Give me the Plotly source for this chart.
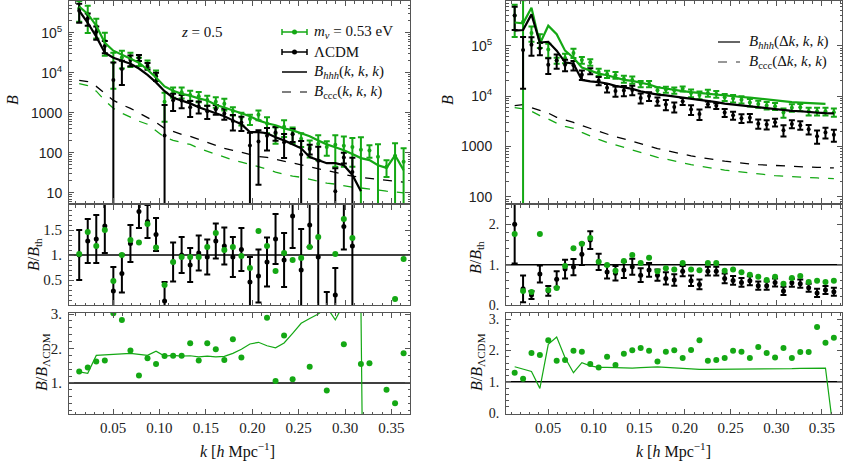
import plotly.graph_objects as go

W, H = 843, 474
GREEN = "#14a814"
BLACK = "#000000"
FRAME = "#555555"
SERIF = "Liberation Serif"
SANS = "Liberation Sans"

k = [0.0135, 0.0227, 0.0319, 0.0411, 0.0503, 0.0595, 0.0687, 0.0779, 0.0871, 0.0963,
     0.1055, 0.1147, 0.1239, 0.1331, 0.1423, 0.1515, 0.1607, 0.1699, 0.1791, 0.1883,
     0.1975, 0.2067, 0.2159, 0.2251, 0.2343, 0.2435, 0.2527, 0.2619, 0.2711, 0.2803,
     0.2895, 0.2987, 0.3079, 0.3171, 0.3263, 0.3355, 0.3447, 0.3539, 0.3631]

# ---- left column: B(k,k,k) ----
L_bhhh_lcdm = [3.6e5, 1.8e5, 8.1e4, 3.2e4, 2.4e4, 2.0e4, 1.7e4, 1.29e4, 8.9e3, 5.8e3,
               3.5e3, 2.4e3, 2.05e3, 1.73e3, 1.38e3, 1.15e3, 970, 820, 650, 520,
               330, 330, 310, 245, 205, 163, 130, 78, 66, 55,
               55, 49, 28, 11, None, None, None, None, None]
L_bhhh_mnu = [4.6e5, 3.0e5, 1.52e5, 5.7e4, 3.6e4, 2.9e4, 2.3e4, 1.8e4, 1.2e4, 7.7e3,
              4.6e3, 3.6e3, 3.0e3, 2.7e3, 2.3e3, 2.05e3, 1.6e3, 1.37e3, 1.15e3, 980,
              820, 650, 550, 490, 410, 365, 310, 260, 205, 163,
              138, 116, 93, 74, 66, 49, 42, 87, 37]
L_bccc_lcdm = [6.5e3, 6.1e3, 4.6e3, 3.1e3, 2.05e3, 1.6e3, 1.3e3, 1.0e3, 770, 580,
               410, 345, 290, 258, 218, 183, 155, 130, 116, 102,
               91, 81, 77, 69, 61, 55, 49, 43, 39, 35,
               31, 29, 26, 24.4, 23.2, 22, 21, 19.6, 18.5]
L_bccc_mnu = [5.4e3, 4.8e3, 3.5e3, 2.05e3, 1.3e3, 980, 780, 620, 520, 365,
              245, 206, 182, 162, 130, 110, 93, 78, 66, 59,
              52, 44, 39, 33, 29, 26, 24.5, 22, 19.6, 17.5,
              16.5, 14.8, 13.8, 13.2, 12.3, 11.7, 11, 10.5, 10]
L_b_lcdm = [3.6e5, 2.3e5, 1.07e5, 4.7e4, 6.7e3, 1.26e4, 2.1e4, 2.4e4, 1.49e4, 8.2e3,
            270, 2060, 2050, 1380, 1440, 1100, 1240, 970, 624, 577,
            152, 191, 267, 323, 185, 290, 91, 125, 63, -11,
            11, 77, 33, None, None, None, None, None, None]
L_b_lcdm_err = [1.8e5, 7.9e4, 3.9e4, 1.6e4, 1.15e4, 7.6e3, 6.3e3, 4.2e3, 2.9e3, 1.9e3,
                1300, 940, 740, 590, 480, 400, 340, 300, 260, 224,
                165, 175, 152, 122, 111, 104, 107, 34, 79, 25,
                30, 23, 42, None, None, None, None, None, None]
L_b_mnu = [4.1e5, 2.9e5, 1.5e5, 6.4e4, 1.8e4, 2.45e4, 2.3e4, 1.95e4, 1.7e4, 9e3,
           1.9e3, 3.35e3, 3.3e3, 2.8e3, 2.6e3, 2.1e3, 1.9e3, 1.7e3, 1.12e3, 750,
           700, 900, 545, 300, 450, 300, 225, 140, 170, 140,
           160, 150, 140, 120, 115, 80, 45, 85, 60]
L_b_mnu_err = [2.2e5, 1.9e5, 7.7e4, 3.7e4, 1.4e4, 1.15e4, 9e3, 4.5e3, 3.5e3, 2.5e3,
               1.3e3, 950, 1e3, 800, 750, 600, 550, 550, 260, 265,
               200, 250, 235, 130, 200, 130, 85, 63, 105, 55,
               115, 105, 95, 125, 40, 85, 20, 90, 70]
L_r_lcdm = [1.0, 1.28, 1.32, 1.58, 0.28, 0.63, 1.23, 1.87, 1.67, 1.41,
            0.08, 0.86, 1.0, 0.8, 1.04, 0.96, 1.28, 1.18, 0.96, 1.11,
            0.46, 0.58, 0.86, 1.32, 0.9, 1.78, 0.7, 1.6, 0.96, -0.2,
            0.2, 1.57, 1.18, None, None, None, None, None, None]
L_r_lcdm_err = [0.5, 0.44, 0.48, 0.54, 0.48, 0.38, 0.37, 0.33, 0.33, 0.33,
                0.38, 0.39, 0.36, 0.34, 0.35, 0.35, 0.35, 0.37, 0.4, 0.43,
                0.5, 0.53, 0.49, 0.5, 0.54, 0.64, 0.82, 0.44, 1.2, 0.46,
                0.54, 0.46, 1.5, None, None, None, None, None, None]
L_r_mnu = [1.02, 1.46, 1.18, 1.5, 0.48, 1.0, 1.3, 1.25, 1.62, 1.15,
           0.4, 0.86, 0.96, 0.96, 0.96, 1.16, 1.44, 1.1, 1.16, 0.98,
           0.74, 1.48, 1.18, 0.68, 1.04, 0.9, 0.94, 1.16, 1.36, None,
           1.02, 1.72, 1.34, 2.1, None, 2.1, None, 0.12, 0.92]
L_q_mnu = [1.33, 1.45, 1.62, 1.65, 3.02, 2.83, 1.94, 1.22, 1.72, 1.55,
           1.78, 1.79, 1.79, 2.15, 1.65, 2.15, 1.98, 1.67, 2.27, 1.74,
           None, None, 2.89, 1.06, 2.38, 1.11, None, 1.47, None, 0.78,
           None, 2.12, None, 1.55, 1.57, None, 0.8, 0.41, 1.86]
L_q_th = [1.32, 1.28, 1.8, 1.81, 1.82, 1.83, 1.86, 1.83, 1.8, 1.92,
          1.78, 1.8, 1.78, 1.79, 1.76, 1.78, 1.76, 1.77, 1.86, 1.98,
          2.13, 2.18, 2.08, 2.02, 2.16, 2.44, 2.73, 2.87, 3.0, 3.2,
          2.83, 3.3, 3.5, 3.3, -20, None, None, None, None]

# ---- right column: B(dk,k,k) ----
R_bhhh_lcdm = [2.0e5, 2.05e5, 4.2e5, 1.16e5, 1.2e5, 8e4, 4.7e4, 4.4e4, 2.1e4, 1.96e4,
               1.9e4, 1.78e4, 1.6e4, 1.48e4, 1.39e4, 1.24e4, 1.15e4, 1.07e4, 1.03e4, 9.8e3,
               9.4e3, 9.0e3, 8.6e3, 8.2e3, 7.6e3, 7.1e3, 6.8e3, 6.5e3, 6.2e3, 5.9e3,
               5.7e3, 5.4e3, 5.3e3, 5.1e3, 5.0e3, 4.8e3, 4.7e3, 4.6e3, 4.55e3]
R_bhhh_mnu = [2.9e5, 2.8e5, 5.7e5, 1.1e5, 2.5e5, 1.7e5, 8e4, 5.8e4, 3.7e4, 3.2e4,
              2.8e4, 2.6e4, 2.3e4, 2.1e4, 2.0e4, 1.85e4, 1.7e4, 1.5e4, 1.4e4, 1.35e4,
              1.26e4, 1.2e4, 1.15e4, 1.1e4, 1.07e4, 1.03e4, 1.0e4, 9.6e3, 9.3e3, 8.9e3,
              8.6e3, 8.2e3, 7.8e3, 7.6e3, 7.4e3, 7.2e3, 7.1e3, 7.0e3, None]
R_bccc_lcdm = [6.5e3, 6.8e3, 5.9e3, 5.2e3, 4.6e3, 3.8e3, 3.4e3, 3.0e3, 2.6e3, 2.3e3,
               2.0e3, 1.75e3, 1.55e3, 1.42e3, 1.26e3, 1.12e3, 1.0e3, 910, 830, 760,
               700, 650, 610, 570, 535, 510, 490, 465, 450, 435,
               425, 415, 405, 400, 395, 390, 385, 380, 375]
R_bccc_mnu = [5.9e3, 5.6e3, 5.0e3, 4.1e3, 3.5e3, 2.9e3, 2.5e3, 2.3e3, 1.9e3, 1.6e3,
              1.38e3, 1.2e3, 1.07e3, 950, 850, 760, 680, 610, 560, 510,
              465, 435, 405, 380, 355, 340, 325, 310, 295, 280,
              270, 263, 257, 250, 245, 240, 237, 233, 230]
R_b_lcdm = [4.0e5, 8.2e4, 1.05e5, 8.9e4, 4.2e4, 5.1e4, 4.2e4, 4.1e4, 2.65e4, 3.16e4,
            2.03e4, 1.46e4, 1.26e4, 1.29e4, 1.32e4, 9.2e3, 1.0e4, 7.9e3, 6.8e3, 6.1e3,
            7.9e3, 5.4e3, 4.4e3, 6.9e3, 6.4e3, 4.7e3, 4.15e3, 3.64e3, 3.72e3, 2.83e3,
            2.74e3, 3.02e3, 2.1e3, 2.8e3, 2.65e3, 2.2e3, 1.6e3, 1.9e3, 1.7e3]
R_b_lcdm_err = [1.94e5, 6.8e4, 4.2e4, 2.4e4, 1.44e4, 1.6e4, 1.08e4, 8.8e3, 5.7e3, 4.3e3,
                3.8e3, 2.85e3, 2.9e3, 2.96e3, 2.78e3, 2.1e3, 1.96e3, 1.5e3, 1.55e3, 1.37e3,
                1.22e3, 1.17e3, 1.03e3, 900, 840, 850, 750, 715, 680, 590,
                570, 540, 530, 510, 500, 480, 470, 460, 455]
R_b_mnu = [4e5, 3e5, 1.8e5, 1.3e5, 8.4e4, 5.1e4, 5.7e4, 7.2e4, 5.2e4, 4.7e4,
           3e4, 2.75e4, 2.6e4, 2.2e4, 2.1e4, 1.75e4, 1.75e4, 1.3e4, 1.35e4, 1.3e4,
           1.4e4, 1.15e4, 1.05e4, 1.15e4, 1.1e4, 9.5e3, 9e3, 8.5e3, 7.5e3, 7e3,
           6.5e3, 6.3e3, 4.7e3, 5.9e3, 6e3, 5e3, 5e3, 5e3, 4.8e3]
R_b_mnu_err = [2.5e5, 5e5, 6e4, 4e4, 2.6e4, 7e3, 1.2e4, 1.5e4, 8e3, 7e3,
               5e3, 4.5e3, 4e3, 3.5e3, 3.4e3, 2.5e3, 2.5e3, 2e3, 1.8e3, 1.8e3,
               1.6e3, 2e3, 1.8e3, 1.8e3, 1.7e3, 1.5e3, 1.5e3, 1.4e3, 1.3e3, 1.1e3,
               1.1e3, 1e3, 1e3, 1e3, 1e3, 900, 900, 900, 900]
R_r_lcdm = [2.0, 0.4, 0.25, 0.77, 0.35, 0.64, 0.89, 0.94, 1.26, 1.61,
            1.07, 0.82, 0.79, 0.87, 0.95, 0.74, 0.87, 0.74, 0.66, 0.62,
            0.84, 0.6, 0.51, 0.84, 0.84, 0.66, 0.61, 0.56, 0.6, 0.48,
            0.48, 0.56, 0.35, 0.55, 0.53, 0.43, 0.3, 0.37, 0.33]
R_r_lcdm_err = [0.97, 0.33, 0.1, 0.21, 0.12, 0.2, 0.23, 0.2, 0.27, 0.22,
                0.2, 0.16, 0.18, 0.2, 0.2, 0.17, 0.17, 0.14, 0.15, 0.14,
                0.13, 0.13, 0.12, 0.11, 0.11, 0.12, 0.11, 0.11, 0.11, 0.1,
                0.1, 0.1, 0.1, 0.1, 0.1, 0.1, 0.1, 0.1, 0.1]
R_r_mnu = [1.76, 0.35, 0.32, 1.76, 0.37, 0.42, 0.97, 1.41, 1.52, 1.66,
           1.07, 0.99, 0.85, 1.09, 1.24, 1.04, 1.17, 0.84, 0.91, 0.88,
           1.04, 0.88, 0.86, 1.04, 1.04, 0.85, 0.88, 0.81, 0.75, 0.7,
           0.62, 0.7, 0.53, 0.67, 0.72, 0.57, 0.6, 0.57, 0.6]
R_q_mnu = [1.29, 1.1, 1.92, 1.86, 2.33, 1.67, 1.7, 1.99, 1.96, 1.57,
           1.46, 1.8, 1.54, 1.9, 2.01, 2.08, 1.99, 1.65, 1.96, 2.01,
           1.76, 2.02, 2.33, 1.67, 1.7, 1.76, 1.99, 1.96, 1.76, 2.11,
           1.92, 1.78, 2.08, 1.76, 1.95, 1.95, 2.75, 2.25, 2.41]
R_q_th = [1.48, 1.41, 1.33, 0.79, 2.2, 2.43, 1.77, 1.29, 1.61, 1.51,
          1.46, 1.46, 1.45, 1.44, 1.44, 1.45, 1.46, 1.48, 1.46, 1.44,
          1.42, 1.41, 1.40, 1.40, 1.40, 1.40, 1.41, 1.41, 1.41, 1.42,
          1.42, 1.42, 1.42, 1.42, 1.43, 1.43, 1.44, 1.44, -0.7]


def px(x):
    return x / W


def py(y):
    return 1 - y / H


X_LEFT = [px(69), px(410)]
X_RIGHT = [px(506), px(842)]
Y_TOP = [py(203), py(1)]
Y_MID = [py(305), py(205)]
Y_BOT = [py(414), py(313)]
K_LEFT = [0.0025, 0.370]
K_RIGHT = [0.004, 0.372]
LOG_MINOR = [m * 10 ** e for e in range(0, 6) for m in range(2, 10)]

fig = go.Figure()


def _frame(**kw):
    d = dict(showgrid=False, zeroline=False, showline=True, linecolor=FRAME, linewidth=1,
             mirror="allticks", ticks="inside", ticklen=5, tickcolor=FRAME, tickwidth=1,
             automargin=False)
    d.update(kw)
    return d


def _xaxis(domain, anchor, rng, labels):
    return _frame(domain=domain, anchor=anchor, range=rng, dtick=0.05, tick0=0,
                  tickformat=".2f", showticklabels=labels,
                  tickfont=dict(family=SERIF, size=15, color="#222"),
                  minor=dict(ticks="inside", ticklen=2.5, dtick=0.01, tick0=0, tickcolor=FRAME))


def _logaxis(domain, anchor, rng, vals, texts, standoff):
    return _frame(domain=domain, anchor=anchor, type="log", range=rng,
                  tickvals=vals, ticktext=texts, ticklabelstandoff=standoff,
                  tickfont=dict(family=SANS, size=14, color="#222"),
                  minor=dict(ticks="inside", ticklen=2.5, tickmode="array", tickvals=LOG_MINOR,
                             tickcolor=FRAME))


def _linaxis(domain, anchor, rng, vals, texts, minor_step, size=15):
    return _frame(domain=domain, anchor=anchor, range=rng, tickvals=vals, ticktext=texts,
                  ticklabelstandoff=3, tickfont=dict(family=SERIF, size=size, color="#222"),
                  minor=dict(ticks="inside", ticklen=2.5, dtick=minor_step, tick0=0,
                             tickcolor=FRAME))


def add(trace, n):
    trace.update(xaxis="x" if n == 1 else f"x{n}", yaxis="y" if n == 1 else f"y{n}",
                 showlegend=False)
    fig.add_trace(trace)


def err_points(y, err, color, n, size=5):
    add(go.Scatter(x=k, y=y, mode="markers", marker=dict(size=size, color=color),
                   error_y=dict(type="data", array=err, color=color, thickness=2, width=3)), n)


def line(y, color, n, width=2, dash="solid"):
    add(go.Scatter(x=k, y=y, mode="lines", line=dict(color=color, width=width, dash=dash)), n)


def dots(y, color, n, size=6):
    add(go.Scatter(x=k, y=y, mode="markers", marker=dict(size=size, color=color)), n)


# columns: (top, mid, bottom) axis numbers
for (n_top, n_mid, n_bot, th_l, th_m, cc_l, cc_m, b_l, b_l_e, b_m, b_m_e,
     r_l, r_l_e, r_m, q_m, q_th) in [
        (1, 2, 3, L_bhhh_lcdm, L_bhhh_mnu, L_bccc_lcdm, L_bccc_mnu, L_b_lcdm, L_b_lcdm_err,
         L_b_mnu, L_b_mnu_err, L_r_lcdm, L_r_lcdm_err, L_r_mnu, L_q_mnu, L_q_th),
        (4, 5, 6, R_bhhh_lcdm, R_bhhh_mnu, R_bccc_lcdm, R_bccc_mnu, R_b_lcdm, R_b_lcdm_err,
         R_b_mnu, R_b_mnu_err, R_r_lcdm, R_r_lcdm_err, R_r_mnu, R_q_mnu, R_q_th)]:
    line(cc_l, BLACK, n_top, width=1.3, dash="dash")
    line(cc_m, GREEN, n_top, width=1.3, dash="dash")
    err_points(b_m, b_m_e, GREEN, n_top, size=4)
    err_points(b_l, b_l_e, BLACK, n_top, size=4)
    line(th_m, GREEN, n_top, width=2.2)
    line(th_l, BLACK, n_top, width=2.2)

    err_points(r_l, r_l_e, BLACK, n_mid, size=5)
    dots(r_m, GREEN, n_mid)

    line(q_th, GREEN, n_bot, width=1.2)
    dots(q_m, GREEN, n_bot)

    for n in (n_mid, n_bot):
        fig.add_shape(type="line", xref=f"x{n} domain", yref=f"y{n}", x0=0, x1=1, y0=1, y1=1,
                      line=dict(color=BLACK, width=1.5), layer="below")

fig.update_layout(
    width=W, height=H, margin=dict(l=0, r=0, t=0, b=0),
    paper_bgcolor="white", plot_bgcolor="white", showlegend=False,
    font=dict(family=SERIF),
    xaxis=_xaxis(X_LEFT, "y", K_LEFT, False),
    xaxis2=_xaxis(X_LEFT, "y2", K_LEFT, False),
    xaxis3=_xaxis(X_LEFT, "y3", K_LEFT, True),
    xaxis4=_xaxis(X_RIGHT, "y4", K_RIGHT, False),
    xaxis5=_xaxis(X_RIGHT, "y5", K_RIGHT, False),
    xaxis6=_xaxis(X_RIGHT, "y6", K_RIGHT, True),
    yaxis=_logaxis(Y_TOP, "x", [0.745, 5.80], [10, 100, 1000, 1e4, 1e5],
                   ["10", "100", "1000", "10<sup>4</sup>", "10<sup>5</sup>"], 3),
    yaxis2=_linaxis(Y_MID, "x2", [0, 2], [0.5, 1, 1.5], ["0.5", "1.", "1.5"], 0.1),
    yaxis3=_linaxis(Y_BOT, "x3", [0.10, 3.03], [1, 2, 3], ["1.", "2.", "3."], 0.2),
    yaxis4=_logaxis(Y_TOP, "x4", [1.877, 5.889], [100, 1000, 1e4, 1e5],
                    ["100", "1000", "10<sup>4</sup>", "10<sup>5</sup>"], 10),
    yaxis5=_linaxis(Y_MID, "x5", [0, 2.48], [0, 1, 2], ["0.", "1.", "2."], 0.2, size=14),
    yaxis6=_linaxis(Y_BOT, "x6", [-0.03, 3.2], [0, 1, 2, 3], ["0.", "1.", "2.", "3."], 0.2,
                    size=14),
)


def text(x, y, s, size=16, angle=0, anchor="center"):
    fig.add_annotation(x=px(x), y=py(y), xref="paper", yref="paper", text=s, showarrow=False,
                       textangle=angle, xanchor=anchor, yanchor="middle",
                       font=dict(family=SERIF, size=size, color="#111"))


# axis titles
text(13, 100, "<i>B</i>", angle=-90)
text(448, 100, "<i>B</i>", angle=-90)
text(34, 255, "<i>B</i>/<i>B</i><sub>th</sub>", angle=-90)
text(476, 257, "<i>B</i>/<i>B</i><sub>th</sub>", angle=-90)
text(42, 362, "<i>B</i>/<i>B</i><sub>ΛCDM</sub>", angle=-90)
text(477, 362, "<i>B</i>/<i>B</i><sub>ΛCDM</sub>", angle=-90)
text(238, 450, "<i>k</i> [<i>h</i> Mpc<sup>−1</sup>]")
text(673, 450, "<i>k</i> [<i>h</i> Mpc<sup>−1</sup>]")
text(202, 32, "<i>z</i> = 0.5", size=15)


def seg(x0, y0, x1, y1, color, width=1.5, dash="solid"):
    fig.add_shape(type="line", xref="paper", yref="paper", x0=px(x0), y0=py(y0),
                  x1=px(x1), y1=py(y1), line=dict(color=color, width=width, dash=dash))


def legend_point(y, color, label):
    seg(282, y, 307, y, color)
    seg(282, y - 3, 282, y + 3, color)
    seg(307, y - 3, 307, y + 3, color)
    fig.add_shape(type="circle", xref="paper", yref="paper", x0=px(292), x1=px(297),
                  y0=py(y + 2.5), y1=py(y - 2.5), fillcolor=color, line_width=0)
    text(312, y, label, size=15, anchor="left")


legend_point(32, GREEN, "<i>m<sub>ν</sub></i> = 0.53 eV")
legend_point(52, BLACK, "ΛCDM")
seg(282, 72, 307, 72, BLACK)
text(312, 72, "<i>B<sub>hhh</sub></i>(<i>k</i>, <i>k</i>, <i>k</i>)", size=15, anchor="left")
seg(282, 92, 307, 92, BLACK, width=1.2, dash="dash")
text(312, 92, "<i>B</i><sub>ccc</sub>(<i>k</i>, <i>k</i>, <i>k</i>)", size=15, anchor="left")

seg(718, 42, 740, 42, "#333")
text(747, 42, "<i>B<sub>hhh</sub></i>(Δ<i>k</i>, <i>k</i>, <i>k</i>)", size=15, anchor="left")
seg(718, 62, 740, 62, "#333", width=1.2, dash="dash")
text(747, 62, "<i>B</i><sub>ccc</sub>(Δ<i>k</i>, <i>k</i>, <i>k</i>)", size=15, anchor="left")

# the page body has a default margin; drop it so the figure sits at the window's corner
fig.write_html("out.html", config={"displayModeBar": False},
               post_script="document.body.style.margin = '0';")
